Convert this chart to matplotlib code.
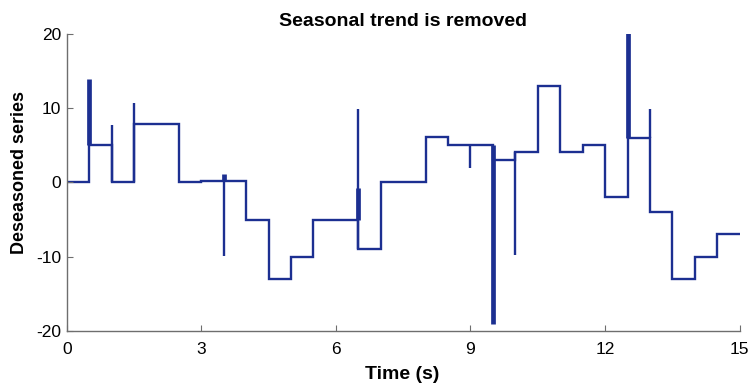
import numpy as np
import matplotlib.pyplot as plt

plt.rcParams['font.family'] = ['Liberation Sans', 'DejaVu Sans']
plt.rcParams['axes.unicode_minus'] = False

# ---------------------------------------------
# data
# ---------------------------------------------

# level of each half-second segment (0 - 15 s)
edges = np.arange(0, 15.5, 0.5)
levels = [0, 5, 0, 7.85, 7.85, 0, 0.15, 0.15, -5, -13,
          -10, -5, -5, -9, 0, 0, 6.1, 5.07, 5.07, 3.06,
          4.1, 13, 4.1, 5.07, -1.95, 6, -4, -13, -10, -7]

# thin spikes: time, from, to
spike_t = [1.0, 1.5, 3.5, 6.5, 9.0, 10.0, 13.0]
spike_lo = [0, 0, -9.9, -9, 2.0, -9.8, 6]
spike_hi = [7.75, 10.75, 0.15, 9.9, 5.07, 4.1, 9.9]

# thick spikes: time, from, to
thick_t = [0.5, 3.5, 6.5, 9.5, 12.5]
thick_lo = [5, 0.15, -5, -19.1, 6]
thick_hi = [14, 1.2, -0.8, 5.07, 20.2]

color = '#1c2f91'

fig = plt.figure(figsize=(7.54, 3.87), dpi=100)
ax = fig.add_axes([0.0885, 0.1447, 0.8925, 0.7675])

ax.stairs(levels, edges, color=color, linewidth=1.7, baseline=None)
ax.vlines(spike_t, spike_lo, spike_hi, color=color, linewidth=1.7)
ax.vlines(thick_t, thick_lo, thick_hi, color=color, linewidth=3.4)

ax.set_xlim(0, 15)
ax.set_ylim(-20, 20)
ax.set_xticks([0, 3, 6, 9, 12, 15])
ax.set_yticks([-20, -10, 0, 10, 20])

for s in ['top', 'right']:
    ax.spines[s].set_visible(False)
for s in ['left', 'bottom']:
    ax.spines[s].set_color('#6e6e6e')
    ax.spines[s].set_linewidth(1.0)

ax.tick_params(direction='in', length=4.5, color='#6e6e6e',
               labelsize=12.5, labelcolor='black')
ax.tick_params(axis='x', pad=8)
ax.tick_params(axis='y', pad=4)

ax.set_title('Seasonal trend is removed', fontsize=14,
             fontweight='bold', pad=5.8)
ax.set_xlabel('Time (s)', fontsize=14, fontweight='bold')
ax.set_ylabel('Deseasoned series', fontsize=13, fontweight='bold')
ax.xaxis.set_label_coords(0.499, -0.118)
ax.yaxis.set_label_coords(-0.057, 0.534)

fig.savefig('out.png', dpi=100)
